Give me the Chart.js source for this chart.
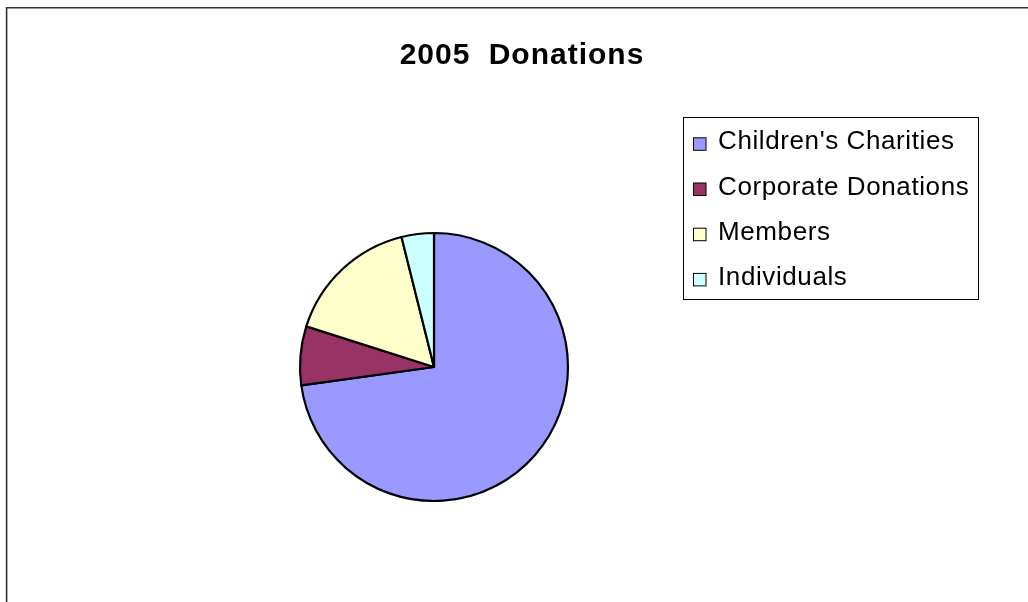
<!DOCTYPE html>
<html>
<head>
<meta charset="utf-8">
<script src="https://cdn.jsdelivr.net/npm/chart.js@4"></script>
<style>
  html, body { margin: 0; padding: 0; background: #fff; }
  #wrap { width: 1028px; height: 602px; position: relative; }
</style>
</head>
<body>
<div id="wrap"><canvas id="c" width="1028" height="602"></canvas></div>
<script>
const chartTitle = "2005 Donations";
const categories = ["Children's Charities", "Corporate Donations", "Members", "Individuals"];
const values = [72.8, 7.1, 16.2, 3.9];
const colors = ["#9999FF", "#993366", "#FFFFCC", "#CCFFFF"];

const decor = {
  id: 'decor',
  beforeDraw(chart) {
    const ctx = chart.ctx;
    ctx.save();
    ctx.fillStyle = '#ffffff';
    ctx.fillRect(0, 0, chart.width, chart.height);
    ctx.strokeStyle = '#333333';
    ctx.lineWidth = 1.6;
    ctx.beginPath();
    ctx.moveTo(6.6, chart.height + 2);
    ctx.lineTo(6.6, 7.8);
    ctx.lineTo(chart.width + 2, 7.8);
    ctx.stroke();
    ctx.restore();
  },
  afterDraw(chart) {
    const ctx = chart.ctx;
    ctx.save();
    // title
    ctx.fillStyle = '#000';
    ctx.font = 'bold 30px "Liberation Sans", Arial, sans-serif';
    ctx.textBaseline = 'alphabetic';
    ctx.textAlign = 'left';
    if ('letterSpacing' in ctx) ctx.letterSpacing = '1px';
    if ('wordSpacing' in ctx) ctx.wordSpacing = '9px';
    const tw = ctx.measureText(chartTitle).width;
    ctx.fillText(chartTitle, 522 - tw / 2, 63.5);
    if ('letterSpacing' in ctx) ctx.letterSpacing = '0px';
    if ('wordSpacing' in ctx) ctx.wordSpacing = '0px';

    // legend box
    ctx.strokeStyle = '#000';
    ctx.lineWidth = 1;
    ctx.strokeRect(683.5, 117.5, 295, 182);
    const labels = chart.data.labels;
    const bg = chart.data.datasets[0].backgroundColor;
    ctx.font = '26px "Liberation Sans", Arial, sans-serif';
    if ('letterSpacing' in ctx) ctx.letterSpacing = '0.6px';
    for (let i = 0; i < labels.length; i++) {
      const base = 149.3 + i * 45.2;
      ctx.fillStyle = bg[i];
      ctx.fillRect(693.5, base - 11.5, 12.5, 12.5);
      ctx.strokeStyle = '#000';
      ctx.strokeRect(693.5, base - 11.5, 12.5, 12.5);
      ctx.fillStyle = '#000';
      ctx.fillText(labels[i], 718, base);
    }
    ctx.restore();
  }
};

new Chart(document.getElementById('c'), {
  type: 'pie',
  data: {
    labels: categories,
    datasets: [{
      data: values,
      backgroundColor: colors,
      borderColor: '#000000',
      borderWidth: 2.2,
      borderJoinStyle: 'round'
    }]
  },
  options: {
    responsive: false,
    animation: false,
    events: [],
    radius: 134,
    layout: { padding: { left: 300, right: 460, top: 233, bottom: 101 } },
    plugins: {
      legend: { display: false },
      title: { display: false },
      tooltip: { enabled: false }
    }
  },
  plugins: [decor]
});
</script>
</body>
</html>
